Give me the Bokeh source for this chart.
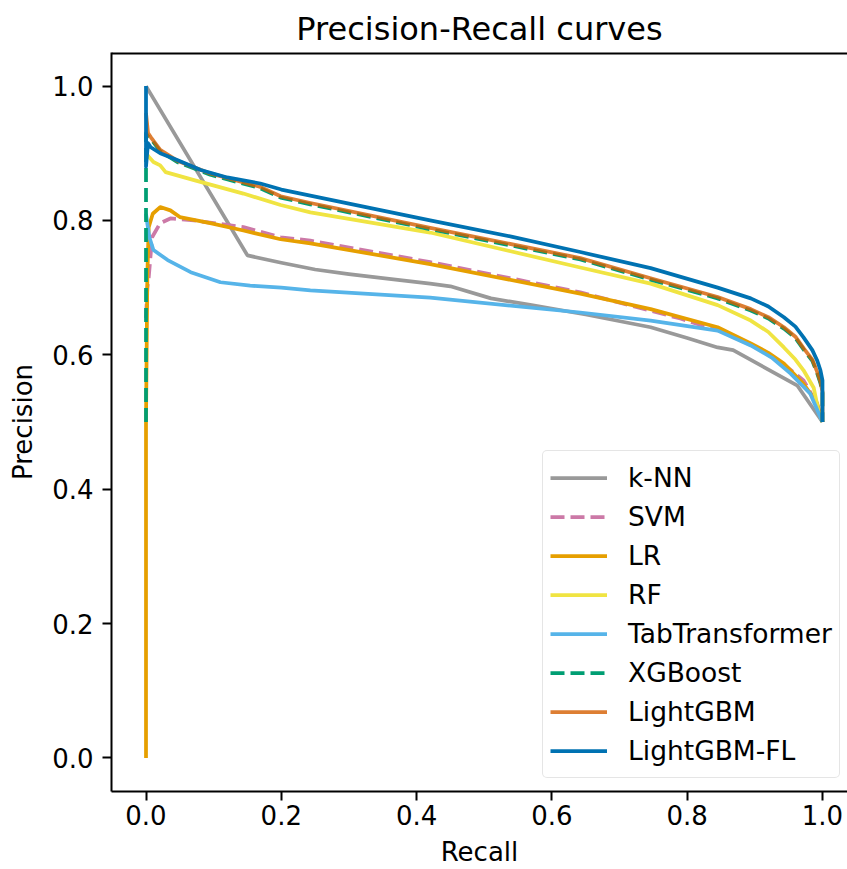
from bokeh.plotting import figure
from bokeh.models import Range1d, FixedTicker, NumeralTickFormatter, Span, Legend, LegendItem
from bokeh.embed import file_html
from bokeh.resources import INLINE

# ---------------- data ----------------
x_ticks = [0.0, 0.2, 0.4, 0.6, 0.8, 1.0]
y_ticks = [0.0, 0.2, 0.4, 0.6, 0.8, 1.0]

knn_recall = [0.0, 0.150, 0.2, 0.25, 0.3, 0.35, 0.42, 0.45, 0.51, 0.57, 0.65, 0.746, 0.8, 0.845, 0.868, 0.963, 1.0]
knn_precision = [1.0, 0.748, 0.737, 0.727, 0.720, 0.714, 0.706, 0.702, 0.684, 0.674, 0.660, 0.641, 0.625, 0.611, 0.607, 0.554, 0.5]

svm_recall = [0.0, 0.002, 0.004, 0.009, 0.021, 0.036, 0.071, 0.144, 0.199, 0.243, 0.42, 0.642, 0.79, 0.85, 0.9, 0.94, 0.972, 0.99, 1.0]
svm_precision = [0.655, 0.700, 0.715, 0.775, 0.796, 0.803, 0.800, 0.790, 0.775, 0.770, 0.738, 0.693, 0.654, 0.635, 0.612, 0.588, 0.562, 0.530, 0.5]

lr_recall = [0.0, 0.0, 0.002, 0.004, 0.010, 0.021, 0.036, 0.050, 0.095, 0.144, 0.199, 0.243, 0.42, 0.642, 0.746, 0.845, 0.894, 0.92, 0.943, 0.972, 0.992, 1.0]
lr_precision = [0.0, 0.5, 0.72, 0.79, 0.81, 0.820, 0.815, 0.805, 0.796, 0.785, 0.772, 0.766, 0.735, 0.691, 0.668, 0.641, 0.617, 0.603, 0.587, 0.557, 0.528, 0.5]

rf_recall = [0.0, 0.004, 0.011, 0.021, 0.029, 0.071, 0.144, 0.199, 0.243, 0.42, 0.642, 0.746, 0.845, 0.894, 0.92, 0.943, 0.96, 0.972, 0.987, 0.994, 1.0]
rf_precision = [0.90, 0.895, 0.887, 0.882, 0.872, 0.860, 0.840, 0.823, 0.812, 0.782, 0.730, 0.706, 0.674, 0.651, 0.634, 0.611, 0.593, 0.577, 0.551, 0.517, 0.5]

tab_recall = [0.0, 0.002, 0.005, 0.011, 0.032, 0.066, 0.110, 0.154, 0.2, 0.243, 0.42, 0.642, 0.746, 0.845, 0.894, 0.925, 0.953, 0.982, 1.0]
tab_precision = [0.81, 0.795, 0.775, 0.756, 0.741, 0.723, 0.708, 0.703, 0.700, 0.696, 0.685, 0.663, 0.651, 0.636, 0.614, 0.596, 0.572, 0.542, 0.5]

xgb_recall = [0.0, 0.0, 0.003, 0.007, 0.021, 0.046, 0.095, 0.169, 0.199, 0.243, 0.42, 0.642, 0.746, 0.845, 0.894, 0.92, 0.943, 0.96, 0.972, 0.985, 0.992, 0.997, 1.0, 1.0]
xgb_precision = [0.5, 0.93, 0.925, 0.922, 0.903, 0.887, 0.868, 0.848, 0.834, 0.824, 0.787, 0.742, 0.712, 0.684, 0.666, 0.654, 0.639, 0.625, 0.608, 0.591, 0.573, 0.558, 0.543, 0.5]

lgbm_recall = [0.0, 0.003, 0.007, 0.021, 0.046, 0.095, 0.169, 0.199, 0.243, 0.42, 0.642, 0.746, 0.845, 0.894, 0.92, 0.943, 0.96, 0.972, 0.985, 0.992, 0.997, 1.0, 1.0]
lgbm_precision = [0.96, 0.93, 0.924, 0.905, 0.889, 0.870, 0.850, 0.836, 0.826, 0.789, 0.744, 0.714, 0.686, 0.668, 0.656, 0.641, 0.627, 0.610, 0.593, 0.575, 0.560, 0.545, 0.5]

fl_recall = [0.0, 0.0, 0.003, 0.007, 0.021, 0.046, 0.081, 0.120, 0.169, 0.2, 0.3, 0.42, 0.54, 0.642, 0.746, 0.845, 0.894, 0.92, 0.943, 0.96, 0.972, 0.985, 0.992, 0.997, 1.0, 1.0]
fl_precision = [1.0, 0.88, 0.915, 0.909, 0.900, 0.890, 0.875, 0.864, 0.855, 0.846, 0.825, 0.800, 0.776, 0.753, 0.729, 0.700, 0.684, 0.672, 0.656, 0.642, 0.626, 0.607, 0.592, 0.577, 0.562, 0.5]

series = [
    ("k-NN", knn_recall, knn_precision, "#999999", "solid", 1.0),
    ("SVM", svm_recall, svm_precision, "#CC79A7", "14 6", 1.0),
    ("LR", lr_recall, lr_precision, "#E69F00", "solid", 1.0),
    ("RF", rf_recall, rf_precision, "#F0E442", "solid", 1.0),
    ("TabTransformer", tab_recall, tab_precision, "#56B4E9", "solid", 1.0),
    ("XGBoost", xgb_recall, xgb_precision, "#009E73", "14 6", 1.0),
    ("LightGBM", lgbm_recall, lgbm_precision, "#D55E00", "solid", 0.8),
    ("LightGBM-FL", fl_recall, fl_precision, "#0072B2", "solid", 1.0),
]

FONT = "DejaVu Sans"

p = figure(width=847, height=869, output_backend="svg", toolbar_location=None,
           x_range=Range1d(-0.051, 1.037), y_range=Range1d(-0.05, 1.05),
           title="Precision-Recall curves",
           min_border_left=111, min_border_right=0, min_border_top=52, min_border_bottom=78)

p.title.text_font = FONT
p.title.text_font_size = "32px"
p.title.text_font_style = "normal"
p.title.align = "center"
p.title.text_color = "black"

p.grid.visible = False
p.outline_line_color = None
p.background_fill_color = "white"
p.border_fill_color = "white"

for ax in (p.xaxis, p.yaxis):
    ax.axis_line_color = "black"
    ax.axis_line_width = 2
    ax.major_tick_line_color = "black"
    ax.major_tick_line_width = 2
    ax.major_tick_out = 9
    ax.major_tick_in = 0
    ax.minor_tick_line_color = None
    ax.major_label_text_font = FONT
    ax.major_label_text_font_size = "26px"
    ax.major_label_text_color = "black"
    ax.axis_label_text_font = FONT
    ax.axis_label_text_font_size = "26px"
    ax.axis_label_text_font_style = "normal"
    ax.axis_label_text_color = "black"
    ax.formatter = NumeralTickFormatter(format="0.0")

p.xaxis.ticker = FixedTicker(ticks=x_ticks)
p.yaxis.ticker = FixedTicker(ticks=y_ticks)
p.xaxis.axis_label = "Recall"
p.yaxis.axis_label = "Precision"
p.xaxis.major_label_standoff = 4
p.yaxis.major_label_standoff = 9
p.xaxis.axis_label_standoff = 9
p.yaxis.axis_label_standoff = 11

# top spine
p.add_layout(Span(location=1.05, dimension="width", line_color="black", line_width=4))

items = []
for name, xs, ys, color, dash, alpha in series:
    r = p.line(xs, ys, line_color=color, line_width=3.75, line_dash=dash,
               line_alpha=alpha, line_join="round")
    items.append(LegendItem(label=name, renderers=[r]))

legend = Legend(items=items, location=(431, 13), orientation="vertical")
legend.label_text_font = FONT
legend.label_text_font_size = "26.5px"
legend.label_text_color = "black"
legend.glyph_width = 57
legend.glyph_height = 39
legend.label_height = 39
legend.label_standoff = 21
legend.spacing = 0
legend.padding = 7
legend.margin = 0
legend.border_line_color = "#cccccc"
legend.border_line_width = 1.5
legend.border_radius = 5
legend.background_fill_alpha = 0.8
p.add_layout(legend, "center")

open("out.html", "w").write(file_html(p, INLINE))
